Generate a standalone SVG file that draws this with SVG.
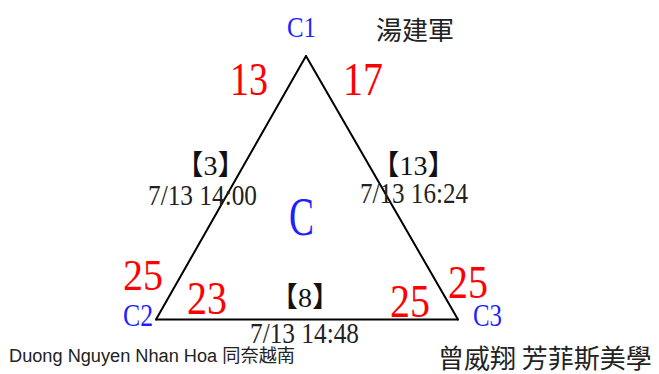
<svg xmlns="http://www.w3.org/2000/svg" width="659" height="374" viewBox="0 0 659 374">
<style>
.serif{font-family:"Liberation Serif","Noto Sans CJK TC",serif}
.cjk{font-family:"Noto Sans CJK TC","Noto Sans CJK SC",sans-serif;fill:#222}
.blue{fill:#1f1fff}
.red{fill:#ff0000}
.dark{fill:#222}
.edge{stroke:#000;stroke-width:2;stroke-linecap:round;fill:none}
.br{font-family:"Liberation Serif","Noto Sans CJK TC",serif;fill:#111;font-size:28px;text-anchor:middle}
.ts{font-size:29px}
.big{font-size:47px}
</style>
<rect width="659" height="374" fill="#fff"/>
<g id="connectors">
  <g id="edge-c1-c2">
    <line class="edge" x1="306" y1="56" x2="156" y2="319.5"/>
    <text class="br" x="210.5" y="175">【3】</text>
    <text class="serif dark ts" x="148" y="205" textLength="109" lengthAdjust="spacingAndGlyphs">7/13 14:00</text>
  </g>
  <g id="edge-c1-c3">
    <line class="edge" x1="306" y1="56" x2="458" y2="319.5"/>
    <text class="br" x="413.5" y="175">【13】</text>
    <text class="serif dark ts" x="360" y="203" textLength="108" lengthAdjust="spacingAndGlyphs">7/13 16:24</text>
  </g>
  <g id="edge-c2-c3">
    <line class="edge" x1="156" y1="319.5" x2="458" y2="319.5"/>
    <text class="br" x="305" y="307">【8】</text>
    <text class="serif dark ts" x="250" y="343" textLength="109" lengthAdjust="spacingAndGlyphs">7/13 14:48</text>
  </g>
</g>
<g id="node-c1">
  <text class="serif blue" x="287" y="37" font-size="30" textLength="29" lengthAdjust="spacingAndGlyphs">C1</text>
  <text class="serif red big" x="230" y="95" textLength="38" lengthAdjust="spacingAndGlyphs">13</text>
  <text class="serif red big" x="343" y="95" textLength="40" lengthAdjust="spacingAndGlyphs">17</text>
  <text class="cjk" x="376" y="40" font-size="26">湯建軍</text>
</g>
<g id="node-c2">
  <text class="serif blue" x="123" y="326" font-size="31" textLength="30" lengthAdjust="spacingAndGlyphs">C2</text>
  <text class="serif red" x="123" y="290" font-size="45" textLength="40" lengthAdjust="spacingAndGlyphs">25</text>
  <text class="serif red" x="187" y="314" font-size="46" textLength="40" lengthAdjust="spacingAndGlyphs">23</text>
  <text x="9" y="362" font-family="'Liberation Sans','Noto Sans CJK TC',sans-serif" font-size="18" fill="#222" textLength="286" lengthAdjust="spacingAndGlyphs">Duong Nguyen Nhan Hoa 同奈越南</text>
</g>
<g id="node-c3">
  <text class="serif blue" x="473" y="326" font-size="31" textLength="29" lengthAdjust="spacingAndGlyphs">C3</text>
  <text class="serif red" x="390" y="317" font-size="47" textLength="40" lengthAdjust="spacingAndGlyphs">25</text>
  <text class="serif red" x="448" y="298" font-size="46" textLength="40" lengthAdjust="spacingAndGlyphs">25</text>
  <text class="cjk" x="438" y="368" font-size="26">曾威翔 芳菲斯美學</text>
</g>
<g id="node-c">
  <text class="serif blue" x="289" y="235" font-size="54" textLength="25" lengthAdjust="spacingAndGlyphs">C</text>
</g>
</svg>
